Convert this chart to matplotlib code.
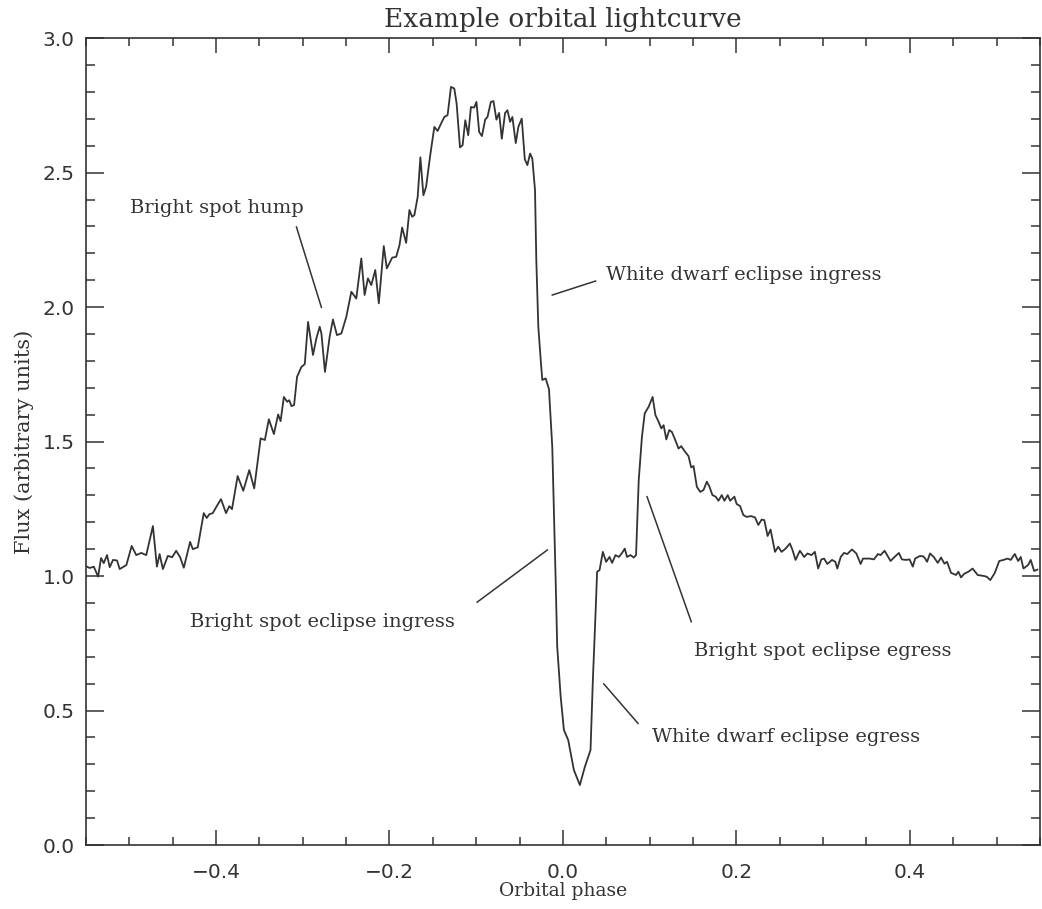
import numpy as np
import matplotlib
matplotlib.use("Agg")
import matplotlib.pyplot as plt
from matplotlib.ticker import MultipleLocator, FuncFormatter

# Lightcurve (orbital phase, flux)
phase = [
    -0.549, -0.5456, -0.541, -0.536, -0.5326, -0.5295, -0.5257, -0.5226, -0.5188, -0.5142,
    -0.5111, -0.5034, -0.4973, -0.4920, -0.4862, -0.4805, -0.4728, -0.4682, -0.4651, -0.4613,
    -0.4556, -0.4506, -0.446, -0.4414, -0.4372, -0.4299, -0.4268, -0.4211, -0.4142, -0.4107,
    -0.4077, -0.4038, -0.3992, -0.3943, -0.3885, -0.3847, -0.3816, -0.3751, -0.3686, -0.3617,
    -0.356, -0.3486, -0.3437, -0.3391, -0.3333, -0.3284, -0.3256, -0.3218, -0.318, -0.3157,
    -0.313, -0.31, -0.3066, -0.3015, -0.2977, -0.2939, -0.2882, -0.2843, -0.2805, -0.2785,
    -0.2744, -0.269, -0.2652, -0.2606, -0.2555, -0.2498, -0.244, -0.2383, -0.2325, -0.2287,
    -0.2249, -0.221, -0.2164, -0.2123, -0.2066, -0.2031, -0.1969, -0.1923, -0.1885, -0.1854,
    -0.1808, -0.177, -0.1739, -0.1713, -0.1675, -0.1644, -0.1609, -0.1578, -0.1532, -0.1483,
    -0.1445, -0.1406, -0.1368, -0.133, -0.1291, -0.1253, -0.1226, -0.1187, -0.1157, -0.1126,
    -0.1092, -0.1061, -0.1023, -0.0997, -0.0966, -0.0934, -0.0897, -0.087, -0.0831, -0.0801,
    -0.0767, -0.0736, -0.0705, -0.0667, -0.064, -0.0609, -0.0583, -0.0544, -0.0514, -0.0475,
    -0.044, -0.041, -0.0379, -0.0353, -0.0322, -0.0307, -0.0284, -0.0256, -0.0238, -0.0199,
    -0.0161, -0.0123, -0.0103, -0.0084, -0.0066, -0.0026, 0.0011, 0.0061, 0.0126, 0.0195,
    0.0253, 0.0318, 0.0345, 0.0376, 0.0394, 0.0422, 0.046, 0.0498, 0.0537, 0.0567,
    0.0606, 0.0644, 0.0682, 0.0713, 0.0739, 0.0778, 0.0816, 0.0843, 0.0874, 0.0911,
    0.0943, 0.0989, 0.1034, 0.1066, 0.1103, 0.1134, 0.1161, 0.1192, 0.1226, 0.1256,
    0.1295, 0.1333, 0.1364, 0.1402, 0.1448, 0.1479, 0.1506, 0.1544, 0.1583, 0.1621,
    0.1659, 0.1686, 0.1724, 0.1762, 0.1793, 0.1831, 0.1862, 0.19, 0.1928, 0.1977,
    0.2003, 0.2043, 0.208, 0.2118, 0.2169, 0.2215, 0.2253, 0.2291, 0.2322, 0.236,
    0.2394, 0.2445, 0.2483, 0.2521, 0.2567, 0.2617, 0.2647, 0.2682, 0.2732, 0.2782,
    0.282, 0.2866, 0.2905, 0.2943, 0.298, 0.3011, 0.3049, 0.3103, 0.3141, 0.3164,
    0.3203, 0.3241, 0.3279, 0.3333, 0.3383, 0.3433, 0.346, 0.3537, 0.3586, 0.3632,
    0.3663, 0.3709, 0.3778, 0.3824, 0.3874, 0.3908, 0.3957, 0.3997, 0.4034, 0.4061,
    0.4111, 0.4149, 0.4169, 0.4199, 0.4233, 0.4276, 0.4322, 0.436, 0.4399, 0.4429,
    0.4475, 0.4532, 0.456, 0.459, 0.4629, 0.4675, 0.4724, 0.4782, 0.4859, 0.4889,
    0.4928, 0.498, 0.5031, 0.508, 0.5126, 0.5164, 0.521, 0.5249, 0.5279, 0.531,
    0.5364, 0.5394, 0.5433, 0.5471,
]
flux = [
    1.035, 1.03, 1.035, 0.998, 1.067, 1.048, 1.078, 1.033, 1.06, 1.058,
    1.026, 1.041, 1.112, 1.078, 1.086, 1.078, 1.186, 1.035, 1.082, 1.026,
    1.075, 1.07, 1.094, 1.07, 1.031, 1.127, 1.1, 1.107, 1.234, 1.216,
    1.23, 1.234, 1.26, 1.286, 1.234, 1.26, 1.249, 1.372, 1.317, 1.394,
    1.326, 1.512, 1.506, 1.583, 1.528, 1.601, 1.576, 1.666, 1.648, 1.654,
    1.632, 1.636, 1.741, 1.778, 1.788, 1.945, 1.822, 1.884, 1.927, 1.902,
    1.759, 1.89, 1.954, 1.896, 1.902, 1.964, 2.057, 2.032, 2.181, 2.045,
    2.107, 2.082, 2.138, 2.014, 2.227, 2.144, 2.184, 2.187, 2.230, 2.296,
    2.239, 2.361, 2.336, 2.342, 2.41, 2.557, 2.416, 2.447, 2.561, 2.67,
    2.655, 2.682, 2.707, 2.714, 2.819, 2.813, 2.757, 2.594, 2.602, 2.695,
    2.639, 2.744, 2.742, 2.763, 2.651, 2.636, 2.697, 2.707, 2.763, 2.766,
    2.697, 2.722, 2.626, 2.722, 2.732, 2.689, 2.707, 2.61, 2.67, 2.701,
    2.55, 2.528, 2.571, 2.552, 2.435, 2.175, 1.927, 1.803, 1.729, 1.735,
    1.695, 1.48, 1.233, 0.985, 0.737, 0.551, 0.428, 0.39, 0.279, 0.223,
    0.291, 0.353, 0.613, 0.861, 1.016, 1.022, 1.09, 1.053, 1.071, 1.049,
    1.078, 1.071, 1.086, 1.102, 1.071, 1.078, 1.069, 1.078, 1.357, 1.518,
    1.605, 1.63, 1.666, 1.599, 1.574, 1.549, 1.561, 1.508, 1.543, 1.536,
    1.506, 1.474, 1.483, 1.465, 1.446, 1.404, 1.409, 1.332, 1.313, 1.32,
    1.351, 1.335, 1.301, 1.295, 1.28, 1.301, 1.28, 1.301, 1.28, 1.295,
    1.268, 1.26, 1.227, 1.22, 1.223, 1.218, 1.19, 1.21, 1.208, 1.149,
    1.173, 1.09, 1.109, 1.09, 1.102, 1.121, 1.097, 1.06, 1.094, 1.071,
    1.084, 1.078, 1.09, 1.028, 1.062, 1.065, 1.045, 1.06, 1.053, 1.028,
    1.071, 1.086, 1.082, 1.099, 1.084, 1.045, 1.065, 1.065, 1.062, 1.082,
    1.078, 1.094, 1.056, 1.071, 1.086, 1.062, 1.06, 1.062, 1.035, 1.065,
    1.074, 1.074, 1.069, 1.053, 1.084, 1.071, 1.049, 1.069, 1.046, 1.053,
    1.012, 1.004, 1.016, 0.995, 1.009, 1.016, 1.028, 1.004, 1.0, 0.997,
    0.985, 1.012, 1.056, 1.06, 1.065, 1.06, 1.082, 1.056, 1.071, 1.028,
    1.041, 1.06, 1.019, 1.024,
]

# annotation labels: text, text anchor (left, centre), pointer line endpoints
labels = ["Bright spot hump", "White dwarf eclipse ingress", "Bright spot eclipse ingress",
          "Bright spot eclipse egress", "White dwarf eclipse egress"]
label_xy = [(-0.499, 2.368), (0.0494, 2.119), (-0.430, 0.829), (0.1506, 0.721), (0.1023, 0.401)]
pointers = [((-0.3073, 2.298), (-0.2785, 1.999)),
            ((-0.0123, 2.045), (0.0376, 2.097)),
            ((-0.0989, 0.903), (-0.018, 1.097)),
            ((0.097, 1.295), (0.148, 0.83)),
            ((0.0471, 0.599), (0.0866, 0.452))]

ink = "#333333"
serif = "DejaVu Serif"

fig = plt.figure(figsize=(10.42, 9.09), dpi=100)
ax = fig.add_axes([0.0825, 0.0704, 0.9155, 0.8876])

ax.plot(phase, flux, color=ink, lw=1.3)

for (p0, p1) in pointers:
    ax.plot([p0[0], p1[0]], [p0[1], p1[1]], color=ink, lw=1.1)
for txt, (tx, ty) in zip(labels, label_xy):
    ax.text(tx, ty, txt, family=serif, fontsize=14, color=ink, ha="left", va="center")

ax.set_xlim(-0.55, 0.55)
ax.set_ylim(0, 3.0)
ax.xaxis.set_major_locator(MultipleLocator(0.2))
ax.xaxis.set_minor_locator(MultipleLocator(0.05))
ax.yaxis.set_major_locator(MultipleLocator(0.5))
ax.yaxis.set_minor_locator(MultipleLocator(0.1))
fmt = FuncFormatter(lambda v, pos: ("%.1f" % v).replace("-", "\u2212"))
ax.xaxis.set_major_formatter(fmt)
ax.yaxis.set_major_formatter(fmt)

ax.tick_params(axis="both", which="both", direction="in", top=True, right=True,
               colors=ink, width=1.1, labelsize=14.5, labelcolor=ink)
ax.tick_params(axis="x", which="major", length=11, pad=13)
ax.tick_params(axis="x", which="minor", length=6)
ax.tick_params(axis="y", which="major", length=13, pad=8)
ax.tick_params(axis="y", which="minor", length=6.5)
for s in ax.spines.values():
    s.set_color(ink)
    s.set_linewidth(1.2)

ax.set_title("Example orbital lightcurve", family=serif, fontsize=19, color=ink, pad=8)
ax.set_xlabel("Orbital phase", family=serif, fontsize=13.5, color=ink, labelpad=0)
ax.set_ylabel("Flux (arbitrary units)", family=serif, fontsize=15, color=ink, labelpad=6)

fig.savefig("out.png", dpi=100)
